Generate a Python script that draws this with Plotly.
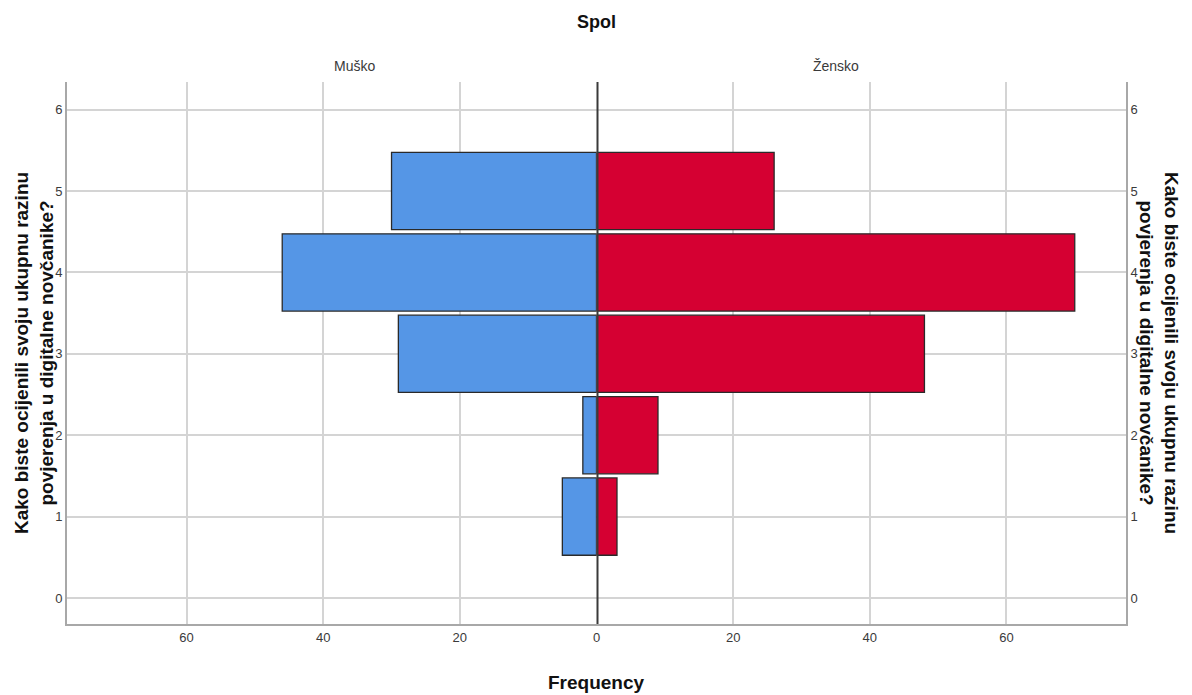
import plotly.graph_objects as go
from plotly.subplots import make_subplots

ratings = [1, 2, 3, 4, 5]
musko = [5, 2, 29, 46, 30]
zensko = [3, 9, 48, 70, 26]
x_ticks_left = [20, 40, 60]
x_ticks_right = [0, 20, 40, 60]
y_ticks = [0, 1, 2, 3, 4, 5, 6]
panel_labels = ["Muško", "Žensko"]
y_title = "Kako biste ocijenili svoju ukupnu razinu<br>povjerenja u digitalne novčanike?"

BLUE = "#5596E6"
RED = "#D50032"
GRID = "#d4d4d4"
AXIS = "#a8a8a8"
TICKFONT = dict(family="Liberation Sans Narrow, Arial Narrow, Liberation Sans, Arial", size=13, color="#3a3a3a")
PANELFONT = dict(family="Liberation Sans Narrow, Arial Narrow, Liberation Sans, Arial", size=14, color="#3a3a3a")
TITLEFONT = dict(family="Liberation Sans, Arial, sans-serif", size=19, color="#111")

fig = make_subplots(rows=1, cols=2, shared_yaxes=False, horizontal_spacing=0)

fig.add_trace(go.Bar(y=ratings, x=musko, orientation="h", width=0.95,
                     marker=dict(color=BLUE, line=dict(color="#2a2a2a", width=1.3)),
                     showlegend=False), row=1, col=1)
fig.add_trace(go.Bar(y=ratings, x=zensko, orientation="h", width=0.95,
                     marker=dict(color=RED, line=dict(color="#2a2a2a", width=1.3)),
                     showlegend=False), row=1, col=2)

yr = [-0.32, 6.34]
xmax = 77.5

common_x = dict(showgrid=True, gridcolor=GRID, gridwidth=1.5,
                zeroline=False, showline=True, linecolor=AXIS, linewidth=2,
                tickfont=TICKFONT, ticks="", ticklen=0)
fig.update_xaxes(range=[xmax, 0], tickvals=x_ticks_left, row=1, col=1, **common_x)
fig.update_xaxes(range=[0, xmax], tickvals=x_ticks_right, row=1, col=2, **common_x)

fig.update_yaxes(range=yr, tickvals=y_ticks, showgrid=True, gridcolor=GRID, gridwidth=1.5,
                 zeroline=False, showline=True, linecolor=AXIS, linewidth=2,
                 tickfont=TICKFONT, ticks="", row=1, col=1)
fig.update_yaxes(range=yr, tickvals=y_ticks, showgrid=True, gridcolor=GRID, gridwidth=1.5,
                 zeroline=False, showline=True, linecolor=AXIS, linewidth=2,
                 side="right", showticklabels=True,
                 tickfont=TICKFONT, ticks="", row=1, col=2)

# centre line at 0 (half of it is clipped at the subplot edge)
fig.add_shape(type="line", xref="x2", yref="paper", x0=0, x1=0, y0=0, y1=1,
              line=dict(color="#3a3a3a", width=4))

bold_title = "<b>" + y_title.replace("<br>", "</b><br><b>") + "</b>"
annotations = [
    dict(text="<b>Spol</b>", x=0.5, y=1, xref="paper", yref="paper", yanchor="bottom", yshift=48,
         showarrow=False, font=dict(family="Liberation Sans, Arial", size=18, color="#111")),
    dict(text=panel_labels[0], x=0.25, y=1, xref="paper", yref="paper", yanchor="bottom", yshift=6,
         showarrow=False, font=PANELFONT),
    dict(text=panel_labels[1], x=0.75, y=1, xref="paper", yref="paper", yanchor="bottom", yshift=6,
         showarrow=False, font=PANELFONT),
    dict(text="<b>Frequency</b>", x=0.5, y=0, xref="paper", yref="paper", yanchor="top", yshift=-46,
         showarrow=False, font=TITLEFONT),
    dict(text=bold_title, x=0, y=0.5, xref="paper", yref="paper",
         xanchor="center", xshift=-33, textangle=-90, showarrow=False, font=TITLEFONT),
    dict(text=bold_title, x=1, y=0.5, xref="paper", yref="paper",
         xanchor="center", xshift=33, textangle=90, showarrow=False, font=TITLEFONT),
]

fig.update_layout(
    width=1192, height=695,
    margin=dict(l=67, r=66, t=82, b=71),
    paper_bgcolor="white", plot_bgcolor="white",
    bargap=0.05,
    annotations=annotations,
)

fig.write_html("out.html", config={"displayModeBar": False},
               post_script="document.body.style.margin='0';document.body.style.padding='0';")
